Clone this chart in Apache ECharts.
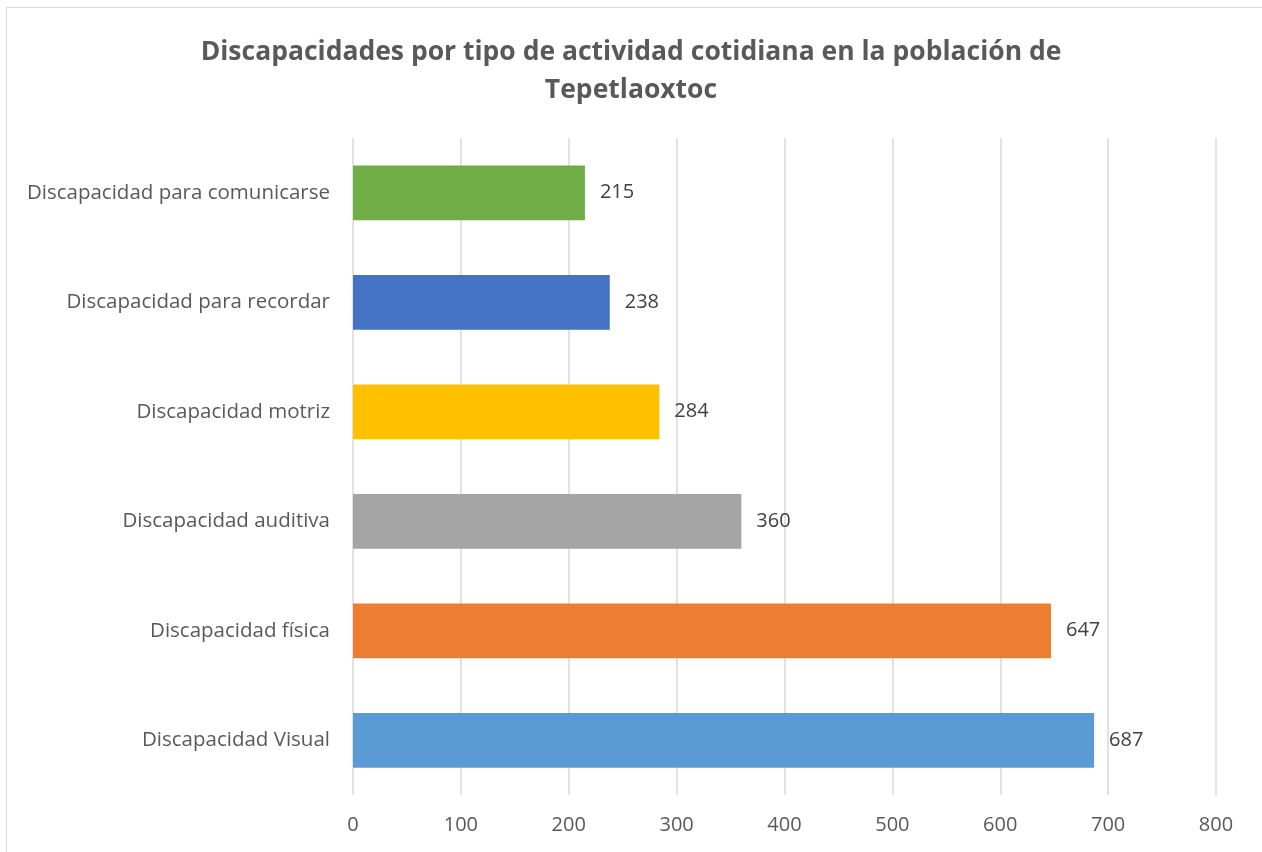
<!DOCTYPE html>
<html>
<head>
<meta charset="utf-8">
<script src="https://cdn.jsdelivr.net/npm/echarts@6/dist/echarts.min.js"></script>
<style>
  html, body { margin: 0; padding: 0; background: #fff; }
  #frame { position: absolute; left: 6px; top: 7px; width: 1300px; height: 900px;
           border-left: 1px solid #d9d9d9; border-top: 1px solid #d9d9d9; }
  #chart { position: absolute; left: 0; top: 0; width: 1262px; height: 852px; }
</style>
</head>
<body>
<div id="frame"></div>
<div id="chart"></div>
<script>
// datos (de abajo hacia arriba)
var categories = ['Discapacidad Visual', 'Discapacidad física', 'Discapacidad auditiva',
  'Discapacidad motriz', 'Discapacidad para recordar', 'Discapacidad para comunicarse']
var values = [687, 647, 360, 284, 238, 215]
var colors = ['#5B9BD5', '#ED7D31', '#A5A5A5', '#FFC000', '#4472C4', '#70AD47']

var font = '"Open Sans", "Noto Sans", sans-serif'
var chart = echarts.init(document.getElementById('chart'))

chart.setOption({
  animation: false,
  textStyle: { fontFamily: font },
  title: {
    text: 'Discapacidades por tipo de actividad cotidiana en la población de\nTepetlaoxtoc',
    left: 'center',
    top: 28,
    textStyle: {
      fontFamily: font,
      fontSize: 26.5,
      fontWeight: 'bold',
      color: '#595959',
      lineHeight: 38
    }
  },
  grid: {
    left: 353,
    right: 46,
    top: 138,
    bottom: 57,
    containLabel: false
  },
  xAxis: {
    type: 'value',
    min: 0,
    max: 800,
    interval: 100,
    axisLine: { show: false },
    axisTick: { show: false },
    splitLine: { lineStyle: { color: '#d9d9d9', width: 1.5 } },
    axisLabel: { color: '#595959', fontSize: 20, margin: 20 }
  },
  yAxis: {
    type: 'category',
    data: categories,
    axisLine: { show: false },
    axisTick: { show: false },
    axisLabel: { color: '#595959', fontSize: 20.5, margin: 23 }
  },
  series: [{
    type: 'bar',
    barWidth: '50%',
    data: values.map(function(v, i) {
      return { value: v, itemStyle: { color: colors[i] } }
    }),
    label: {
      show: true,
      position: 'right',
      distance: 15,
      color: '#404040',
      fontSize: 20
    }
  }]
})
</script>
</body>
</html>
